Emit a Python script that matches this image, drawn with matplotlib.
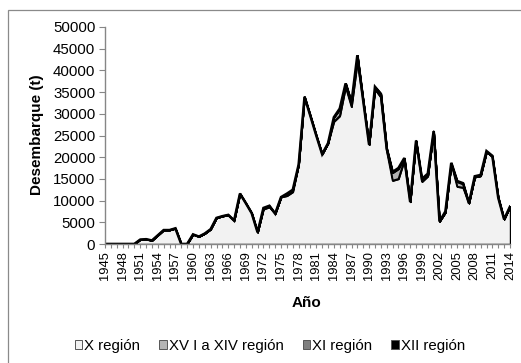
import matplotlib
matplotlib.use("Agg")
import matplotlib.pyplot as plt
from matplotlib import font_manager
from matplotlib.patches import Rectangle, Patch
import numpy as np

# Landings by region, 1945-2014 (tonnes)
years = list(range(1945, 2015))

x_region = [
    0, 0, 0, 0, 0, 0, 1000, 1100, 800, 2000,
    3200, 3200, 3600, 0, 0, 2200, 1700, 2400, 3400, 6000,
    6400, 6700, 5400, 11600, 9400, 7100, 2700, 8000, 8500, 7000,
    10800, 11100, 12000, 18300, 33900, 29500, 25000, 20700, 23200, 28200,
    29500, 36200, 31600, 42000, 33000, 22900, 35600, 33800, 21500, 14600,
    15000, 19300, 9700, 23800, 14400, 15700, 26000, 5200, 7300, 18500,
    13200, 13000, 9400, 15400, 15700, 21200, 20100, 10700, 5700, 8600,
]
xv_xiv_region = [
    0, 0, 0, 0, 0, 0, 0, 0, 0, 0,
    0, 0, 0, 0, 0, 0, 0, 0, 0, 0,
    0, 0, 0, 0, 0, 0, 0, 300, 300, 0,
    0, 500, 500, 0, 0, 0, 0, 0, 0, 1000,
    1500, 800, 1000, 1500, 0, 0, 600, 800, 500, 1800,
    2300, 500, 0, 0, 0, 0, 0, 0, 0, 0,
    1100, 800, 0, 0, 0, 0, 0, 0, 0, 0,
]
xi_region = [
    0, 0, 0, 0, 0, 0, 0, 0, 0, 0,
    0, 0, 0, 0, 0, 0, 0, 0, 0, 0,
    0, 0, 0, 0, 0, 0, 0, 0, 0, 0,
    0, 0, 0, 0, 0, 0, 0, 0, 0, 0,
    200, 0, 0, 0, 0, 0, 0, 0, 0, 200,
    200, 0, 0, 0, 0, 0, 0, 0, 0, 0,
    200, 200, 0, 0, 0, 0, 0, 0, 0, 0,
]
xii_region = [
    0, 0, 0, 0, 0, 0, 0, 0, 0, 0,
    0, 0, 0, 0, 0, 0, 0, 0, 0, 0,
    0, 0, 0, 0, 0, 0, 0, 0, 0, 0,
    0, 0, 0, 0, 0, 0, 0, 0, 0, 0,
    0, 0, 0, 0, 0, 0, 0, 0, 0, 0,
    0, 0, 0, 0, 600, 500, 0, 0, 200, 200,
    0, 0, 0, 200, 200, 200, 200, 0, 0, 0,
]

series_names = ["X región", "XV I a XIV región", "XI región", "XII región"]
series_colors = ["#f2f2f2", "#b4b4b4", "#7f7f7f", "#000000"]

yticks = list(range(0, 50001, 5000))
label_years = years[::3]

base_font = "Liberation Sans"
available = {f.name for f in font_manager.fontManager.ttflist}
narrow_font = "Liberation Sans Narrow" if "Liberation Sans Narrow" in available else base_font
plt.rcParams["font.family"] = [base_font, "DejaVu Sans"]

W, H = 521, 363
fig = plt.figure(figsize=(W / 100, H / 100), dpi=100)
fig.patch.set_facecolor("white")

# outer chart frame
fig.patches.append(Rectangle((8 / W, -0.05), 1.2, 1 - 10 / H + 0.05,
                             transform=fig.transFigure, fill=False,
                             edgecolor="#8a8a8a", linewidth=0.9))

ax = fig.add_axes([105 / W, 119 / H, 405 / W, 217 / H])

ax.stackplot(years, x_region, xv_xiv_region, xi_region, xii_region,
             colors=series_colors, edgecolor="black", linewidth=1.0)
total = np.sum([x_region, xv_xiv_region, xi_region, xii_region], axis=0)
ax.plot(years, total, color="black", linewidth=1.9, solid_joinstyle="miter")
ax.plot(years, x_region, color="black", linewidth=1.2)

ax.set_xlim(1945, 2014)
ax.set_ylim(0, 50000)
ax.set_yticks(yticks)
ax.set_yticklabels([str(v) for v in yticks], fontsize=10.8)
ax.set_xticks(years)
ax.set_xticklabels([str(y) if y in label_years else "" for y in years],
                   rotation=90, fontsize=10.8 if narrow_font != base_font else 9.3,
                   family=narrow_font)

for s in ["top", "right"]:
    ax.spines[s].set_visible(False)
for s in ["left", "bottom"]:
    ax.spines[s].set_color("#868686")
    ax.spines[s].set_linewidth(1.0)
ax.tick_params(axis="y", direction="out", length=4, color="#868686", pad=3)
ax.tick_params(axis="x", direction="out", length=3, color="#868686", pad=2)

fig.text(37 / W, 1 - 135 / H, "Desembarque (t)", rotation=90, ha="center",
         va="center", fontsize=11, fontweight="bold")
fig.text(307 / W, 1 - 303 / H, "Año", ha="center", va="center",
         fontsize=11, fontweight="bold")

handles = [Patch(facecolor=c, edgecolor="#555555", linewidth=0.7) for c in series_colors]
fig.legend(handles, series_names, loc="center", bbox_to_anchor=(270 / W, 1 - 346 / H),
           ncol=4, frameon=False, fontsize=10.8, handlelength=0.5, handleheight=0.5,
           handletextpad=0.15, columnspacing=1.25, borderaxespad=0)

fig.savefig("out.png", dpi=100)
